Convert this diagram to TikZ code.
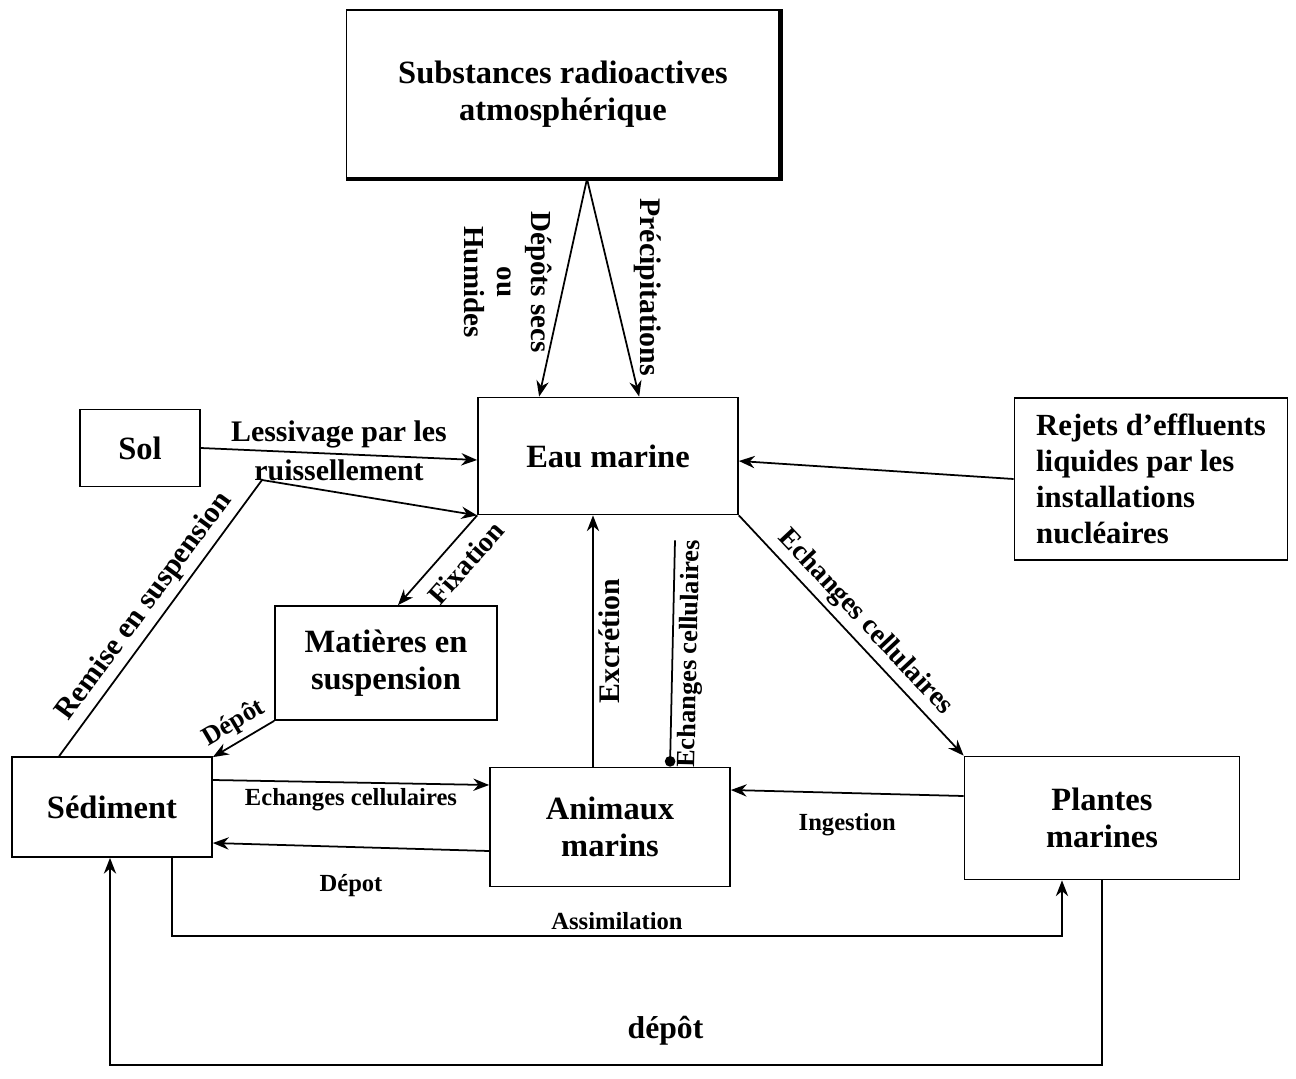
\documentclass[tikz,border=0pt]{standalone}
\usepackage{fontspec}
\setmainfont{Liberation Serif}
\usetikzlibrary{arrows.meta, calc}

\tikzset{
	box/.style={draw, line width=1pt, align=center, inner sep=0pt, font=\fontsize{18.5}{21}\selectfont\bfseries},
	arr/.style={line width=1pt, -{Stealth[length=9pt, width=7pt]}},
	lbl/.style={font=\fontsize{16}{17}\selectfont\bfseries, inner sep=3pt},
	slbl/.style={font=\fontsize{14}{16}\selectfont\bfseries, inner sep=3pt}
}

\begin{document}
\begin{tikzpicture}[x=0.02cm, y=-0.02cm]
			\useasboundingbox (0,0) rectangle (1296,1079);
			% Sources
			\node[box, minimum width=8.66cm, minimum height=3.36cm] (subst) at (563,94) {Substances radioactives\\atmosphérique};
			\node[box, minimum width=2.4cm, minimum height=1.54cm] (sol) at (140,448) {Sol};
			\node[box, minimum width=5.46cm, minimum height=3.24cm, align=left, font=\fontsize{17.5}{20.5}\selectfont\bfseries] (rejets) at (1151,479) {Rejets d’effluents\\liquides par les\\installations\\nucléaires};
			% Milieu marin
			\node[box, minimum width=5.2cm, minimum height=2.34cm] (eau) at (608,456) {Eau marine};
			\node[box, minimum width=4.44cm, minimum height=2.28cm] (mes) at (386,663) {Matières en\\suspension};
			\node[box, minimum width=4cm, minimum height=2cm] (sed) at (112,807) {Sédiment};
			\node[box, minimum width=4.8cm, minimum height=2.38cm] (anim) at (610,827) {Animaux\\marins};
			\node[box, minimum width=5.5cm, minimum height=2.46cm] (plantes) at (1102,818) {Plantes\\marines};
			% Ombre de la boite du haut
			\draw[line width=2.5pt] (subst.north east) -- (subst.south east) -- (subst.south west);
			% Arrows atmosphere -> eau
			\draw[arr] ($(subst.south)+(24,0)$) -- ($(eau.north west)+(62,0)$);
			\draw[arr] ($(subst.south)+(24,0)$) -- ($(eau.north west)+(162,0)$);
			\node[lbl, rotate=-90, align=center, font=\fontsize{16.5}{19}\selectfont\bfseries] (depsecs) at (508,282) {Dépôts secs\\ou\\Humides};
			\node[lbl, rotate=-90, font=\fontsize{17}{18}\selectfont\bfseries] (precip) at (648,287) {Précipitations};
			% Arrows into eau
			\draw[arr] (sol.east) -- ($(eau.west)+(0,4)$) node[midway, above, lbl, font=\fontsize{17}{18}\selectfont\bfseries] {Lessivage par les} node[midway, below, lbl, font=\fontsize{17}{18}\selectfont\bfseries] {ruissellement};
			\draw[arr] (rejets.west) -- ($(eau.east)+(0,5)$);
			\draw[arr] ($(sed.north west)+(48,0)$) -- (262,480) node[midway, sloped, above, lbl, font=\fontsize{17}{18}\selectfont\bfseries] {Remise en suspension} -- (eau.south west);
			\draw[arr] ($(anim.north)+(-17,0)$) -- ($(eau.south)+(-15,0)$) node[midway, sloped, below, lbl, font=\fontsize{17}{18}\selectfont\bfseries] {Excrétion};
			% Arrows out of eau
			\draw[arr] (eau.south west) -- ($(mes.north)+(12,0)$) node[pos=0.36, sloped, below=4pt, lbl] {Fixation};
			\draw[line width=1pt, -{Circle[length=6pt]}] ($(eau.south)+(67,25)$) -- ($(anim.north)+(60,0)$) node[midway, sloped, below, lbl, font=\fontsize{15}{16}\selectfont\bfseries] {Echanges cellulaires};
			\draw[arr] (eau.south east) -- (plantes.north west) node[midway, sloped, above, lbl] {Echanges cellulaires};
			% Arrows sediment / animaux / plantes
			\draw[arr] (mes.south west) -- ($(sed.north east)+(0,1)$) node[midway, sloped, above, lbl, font=\fontsize{15}{16}\selectfont\bfseries] {Dépôt};
			\draw[arr] ($(sed.east)+(0,-27)$) -- ($(anim.west)+(0,-42)$) node[midway, below, slbl] {Echanges cellulaires};
			\draw[arr] ($(anim.west)+(0,24)$) -- ($(sed.east)+(0,36)$) node[midway, below=12pt, slbl] {Dépot};
			\draw[arr] ($(plantes.west)+(0,-22)$) -- ($(anim.east)+(0,-37)$) node[midway, below=8pt, slbl] {Ingestion};
			\draw[arr] ($(sed.south)+(60,0)$) -- ++(0,78) -| node[pos=0.25, above, slbl] {Assimilation} ($(plantes.south)+(-40,0)$);
			\draw[arr] (plantes.south) -- ++(0,185) -| node[pos=0.22, above=8pt, lbl, font=\fontsize{18}{19}\selectfont\bfseries] {dépôt} ($(sed.south)+(-2,0)$);
		\end{tikzpicture}
\end{document}
